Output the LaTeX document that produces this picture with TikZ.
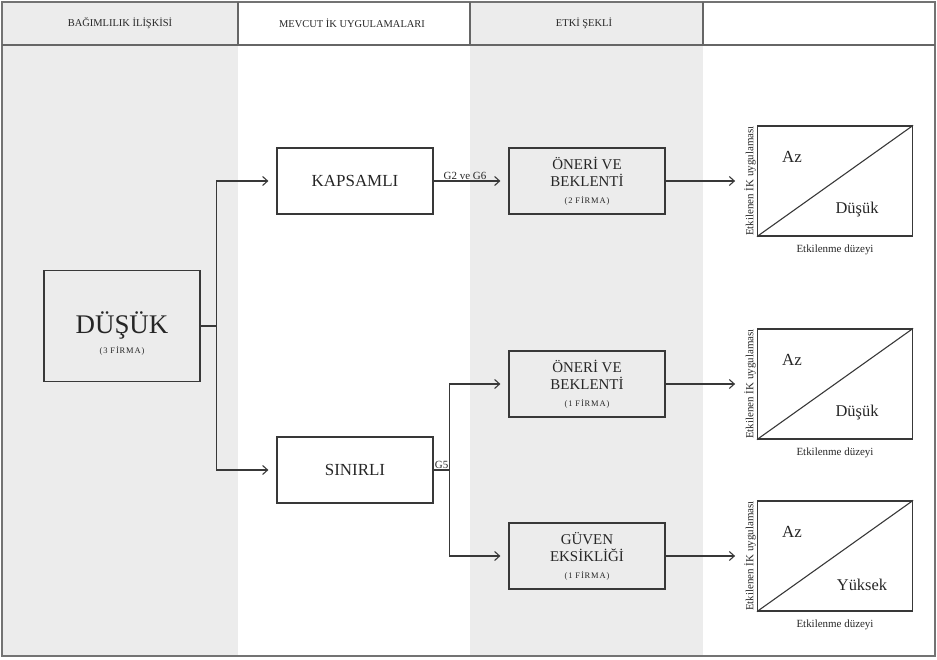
\documentclass[tikz,border=0pt]{standalone}
\usepackage{fontspec}
\setmainfont{Liberation Serif}
\newfontfamily\genis[LetterSpace=10]{Liberation Serif}
\usetikzlibrary{arrows.meta,positioning}

\definecolor{kolon}{gray}{0.925}
\definecolor{cizgi}{gray}{0.22}
\newcommand{\firma}[1]{{\genis\fontsize{8.5}{10}\selectfont(#1 FİRMA)}}

\begin{document}
\begin{tikzpicture}[x=1bp, y=-1bp, node distance= 232bp, text=black!85,
    hat/.style={draw= cizgi, line width=1.1bp},
    ok/.style={-{Straight Barb[length=5bp,width=9bp]}, shorten >=8bp},
    kutu/.style={draw= cizgi, line width=1.2bp, align=center,
      minimum width=156bp, minimum height=66bp},
    grafik/.style={draw= cizgi, line width=1.2bp,
      minimum width=155bp, minimum height=110bp},
    eksen/.style={font=\fontsize{11}{13}\selectfont, inner sep=1bp}]
      \useasboundingbox (0,0) rectangle (937,660);
      % sutunlar ve baslik satiri
      \fill[kolon] (3,3) rectangle (238,655);
      \fill[kolon] (470,3) rectangle (703,655);
      \draw[black!55, line width=1.5bp] (2,2) rectangle (935,656);
      \draw[black!60, line width=1.2bp] (2,45) -- (935,45);
      \foreach \x in {238,470,703}
        \draw[black!60, line width=1.2bp] (\x,2) -- (\x,45);
      \begin{scope}[every node/.style={font=\fontsize{10.5}{12}\selectfont}]
        \node (h1) at (120,23) {BAĞIMLILIK İLİŞKİSİ};
        \node (h2) [right of= h1] {MEVCUT İK UYGULAMALARI};
        \node (h3) [right of= h2] {ETKİ ŞEKLİ};
      \end{scope}
      % kutular
      \begin{scope}[every node/.style={kutu}]
        \node (dusuk) [minimum height=111bp, font=\fontsize{9}{20}\selectfont]
          at (122,326) {{\fontsize{27}{28}\selectfont\rule{0pt}{37bp}DÜŞÜK}\\\firma{3}};
        \node (kapsamli) [font=\fontsize{17}{18}\selectfont] at (355,181) {KAPSAMLI};
        \node (sinirli) [below of= kapsamli, node distance= 289bp,
          font=\fontsize{17}{18}\selectfont] {SINIRLI};
        \node (oneri1) [right of= kapsamli, font=\fontsize{15}{17}\selectfont]
          {ÖNERİ VE\\BEKLENTİ\\\firma{2}};
        \node (oneri2) [font=\fontsize{15}{17}\selectfont] at (587,384)
          {ÖNERİ VE\\BEKLENTİ\\\firma{1}};
        \node (guven) [below of= oneri2, node distance= 172bp,
          font=\fontsize{15}{17}\selectfont] {GÜVEN\\EKSİKLİĞİ\\\firma{1}};
      \end{scope}
      % baglantilar
      \coordinate [right= 16bp of dusuk.east] (catal1);
      \coordinate [right= 16bp of sinirli.east] (catal2);
      \draw[hat] (dusuk) -- (catal1);
      \draw[hat, ok] (catal1) |- (kapsamli);
      \draw[hat, ok] (catal1) |- (sinirli);
      \path (kapsamli) edge[hat, ok] node[above, inner sep=1bp, pos=0.42,
        font=\fontsize{11}{13}\selectfont] {G2 ve G6} (oneri1);
      \draw[hat] (sinirli) -- node[above, inner sep=1bp,
        font=\fontsize{11}{13}\selectfont] {G5} (catal2);
      \draw[hat, ok] (catal2) |- (oneri2);
      \draw[hat, ok] (catal2) |- (guven);
      % etki grafikleri
      \begin{scope}[every node/.style={grafik}]
        \node (g1) [right of= oneri1, node distance= 248bp] {};
        \node (g2) [right of= oneri2, node distance= 248bp] {};
        \node (g3) [right of= guven, node distance= 248bp] {};
      \end{scope}
      \foreach \k/\g/\d/\dx in {oneri1/g1/Düşük/22, oneri2/g2/Düşük/22,
          guven/g3/Yüksek/27} {
        \draw[hat] (\g.south west) -- (\g.north east);
        \node (\g-az) [font=\fontsize{17}{18}\selectfont]
          at ([shift={(-43,-24)}]\g.center) {Az};
        \node (\g-d) [font=\fontsize{16.5}{18}\selectfont]
          at ([shift={(\dx,29)}]\g.center) {\d};
        \node (\g-y) [eksen, rotate=90, anchor=south] at (\g.west)
          {Etkilenen İK uygulaması};
        \node (\g-x) [eksen, anchor=north] at ([yshift=-7bp]\g.south)
          {Etkilenme düzeyi};
        \path (\k) edge[hat, ok] (\g-y.north);
      }
    \end{tikzpicture}
\end{document}
